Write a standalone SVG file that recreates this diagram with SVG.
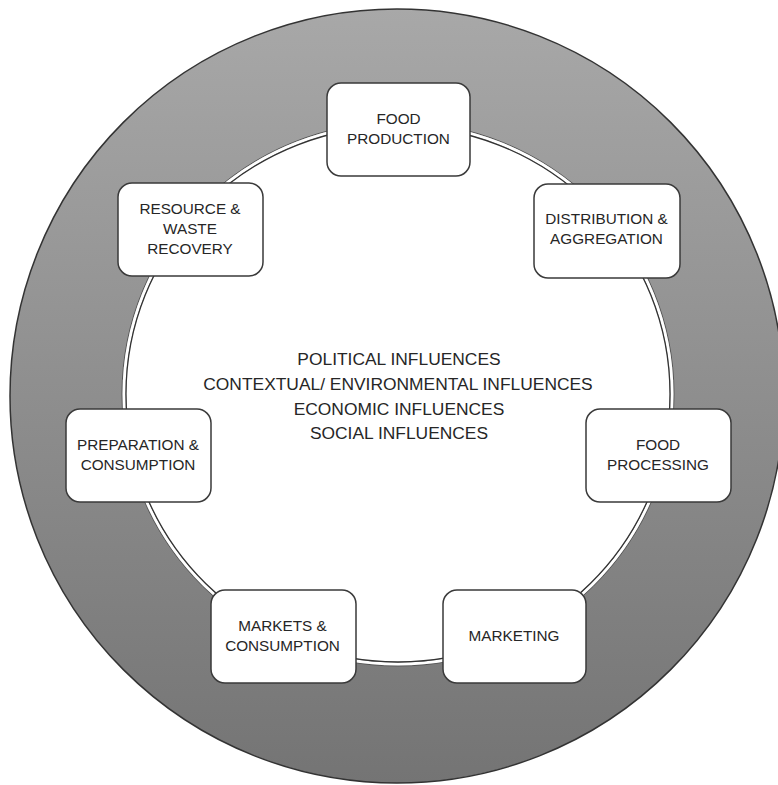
<svg xmlns="http://www.w3.org/2000/svg" width="778" height="785" viewBox="0 0 778 785">
  <defs>
    <linearGradient id="bgGrad" x1="0" y1="0" x2="0" y2="1">
      <stop offset="0" stop-color="#a8a8a8"/>
      <stop offset="1" stop-color="#747474"/>
    </linearGradient>
  </defs>
  <style>
    .box { fill: #ffffff; stroke: #3a3a3a; stroke-width: 1.5; }
    .lbl { font-family: "Liberation Sans", Arial, sans-serif; font-size: 15.3px; fill: #262626; text-anchor: middle; }
    .ctr { font-family: "Liberation Sans", Arial, sans-serif; font-size: 17.4px; fill: #262626; text-anchor: middle; }
  </style>
  <rect x="0" y="0" width="778" height="785" fill="#ffffff"/>
  <g id="outer-ring">
    <circle cx="397" cy="396" r="387" fill="url(#bgGrad)" stroke="#333333" stroke-width="1.5"/>
  </g>
  <g id="connectors">
    <ellipse cx="398" cy="394" rx="276" ry="272" fill="none" stroke="#555555" stroke-width="1"/>
    <ellipse cx="398" cy="394" rx="274" ry="270" fill="none" stroke="#ffffff" stroke-width="3"/>
    <ellipse cx="398" cy="394" rx="272" ry="268" fill="#ffffff" stroke="#333333" stroke-width="1.3"/>
  </g>
  <g id="center-text">
    <text class="ctr" x="399" y="365">POLITICAL INFLUENCES</text>
    <text class="ctr" x="398" y="390">CONTEXTUAL/ ENVIRONMENTAL INFLUENCES</text>
    <text class="ctr" x="399" y="414.5">ECONOMIC INFLUENCES</text>
    <text class="ctr" x="399" y="439">SOCIAL INFLUENCES</text>
  </g>
  <g id="food-production">
    <rect class="box" x="327" y="83" width="143" height="93" rx="14"/>
    <text class="lbl" x="398.5" y="124">FOOD</text>
    <text class="lbl" x="398.5" y="144">PRODUCTION</text>
  </g>
  <g id="distribution-aggregation">
    <rect class="box" x="534" y="184" width="146" height="94" rx="14"/>
    <text class="lbl" x="606.5" y="224">DISTRIBUTION &amp;</text>
    <text class="lbl" x="606.5" y="244">AGGREGATION</text>
  </g>
  <g id="food-processing">
    <rect class="box" x="586" y="409" width="145" height="93" rx="14"/>
    <text class="lbl" x="658" y="449.5">FOOD</text>
    <text class="lbl" x="658" y="469.5">PROCESSING</text>
  </g>
  <g id="marketing">
    <rect class="box" x="443" y="590" width="143" height="93" rx="14"/>
    <text class="lbl" x="514" y="641">MARKETING</text>
  </g>
  <g id="markets-consumption">
    <rect class="box" x="211" y="590" width="145" height="93" rx="14"/>
    <text class="lbl" x="282.5" y="631">MARKETS &amp;</text>
    <text class="lbl" x="282.5" y="651">CONSUMPTION</text>
  </g>
  <g id="preparation-consumption">
    <rect class="box" x="66" y="409" width="145" height="93" rx="14"/>
    <text class="lbl" x="138" y="449.5">PREPARATION &amp;</text>
    <text class="lbl" x="138" y="469.5">CONSUMPTION</text>
  </g>
  <g id="resource-waste-recovery">
    <rect class="box" x="118" y="183" width="145" height="93" rx="14"/>
    <text class="lbl" x="190" y="213.5">RESOURCE &amp;</text>
    <text class="lbl" x="190" y="234">WASTE</text>
    <text class="lbl" x="190" y="253.5">RECOVERY</text>
  </g>
</svg>
